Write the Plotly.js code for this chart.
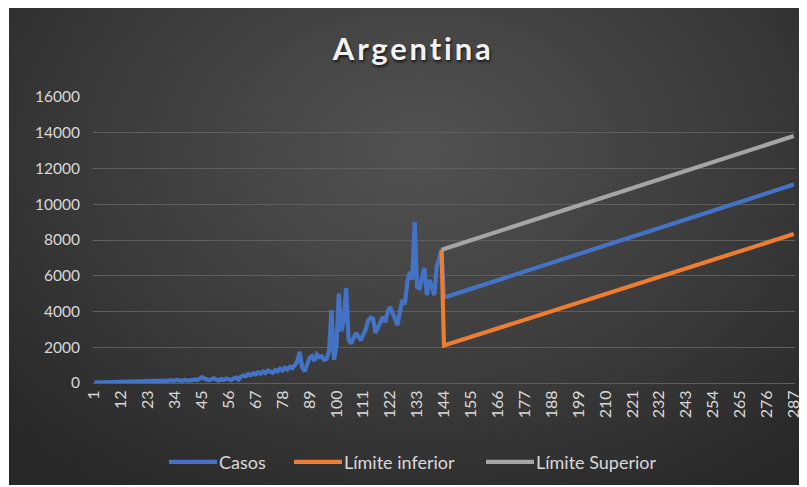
<!DOCTYPE html>
<html>
<head>
<meta charset="utf-8">
<script src="https://cdn.plot.ly/plotly-3.0.1.min.js"></script>
<style>
  html, body { margin: 0; padding: 0; background: #ffffff; width: 807px; height: 487px; overflow: hidden; }
  #bg { position: absolute; left: 9px; top: 8px; width: 790px; height: 477px;
        background: radial-gradient(ellipse 70% 85% at 52% 30%, #525252 0%, #3c3c3c 55%, #282828 100%); }
  #chart { position: absolute; left: 0; top: 0; width: 807px; height: 487px; }
  .gtitle { letter-spacing: 2.8px; text-shadow: 1px 2px 3px rgba(0,0,0,0.7); }
</style>
</head>
<body>
<div id="bg"></div>
<div id="chart"></div>
<script>
// Casos diarios observados (día 1 .. 143)
const casosReales = [
  20, 25, 30, 35, 40, 40, 45, 50, 50, 55,
  60, 60, 65, 70, 70, 75, 80, 80, 85, 90,
  70, 85, 100, 90, 110, 95, 120, 100, 140, 130,
  110, 160, 120, 150, 170, 140, 110, 180, 130, 160,
  150, 200, 170, 230, 320, 250, 180, 150, 210, 260,
  180, 140, 230, 170, 250, 210, 160, 260, 300, 190,
  350, 420, 380, 500, 430, 550, 480, 600, 520, 650,
  560, 700, 620, 580, 720, 650, 800, 700, 850, 760,
  900, 820, 1000, 1200, 1750, 900, 650, 1100, 1400, 1500,
  1250, 1600, 1450, 1500, 1300, 1350, 1800, 4080, 1300, 2000,
  5000, 2900, 3500, 5300, 2400, 2200, 2500, 2800, 2600, 2400,
  2700, 3000, 3500, 3650, 3600, 2800, 3100, 3400, 3700, 3400,
  4000, 4250, 3900, 3600, 3240, 4000, 4640, 4400, 5650, 6220,
  5800, 9000, 5370, 5300, 5930, 6430, 4920, 5760, 5400, 4920,
  6500, 7000, 7440
];
// Pronóstico de casos (tramo recto)
const pronosticoDias = [144, 287];
const pronosticoCasos = [4780, 11100];
// Límites
const limiteDias = [143, 144, 287];
const limiteInferior = [7440, 2100, 8330];
const limiteSuperior = [7440, 7500, 13820];
// Etiquetas de los ejes
const etiquetasX = [1, 12, 23, 34, 45, 56, 67, 78, 89, 100, 111, 122, 133, 144, 155, 166, 177, 188, 199, 210, 221, 232, 243, 254, 265, 276, 287];
const etiquetasY = [0, 2000, 4000, 6000, 8000, 10000, 12000, 14000, 16000];

const casosDias = casosReales.map((v, i) => i + 1).concat(pronosticoDias);
const casosValores = casosReales.concat(pronosticoCasos);

const font = "Lato, 'Open Sans', sans-serif";
const traces = [
  { x: casosDias, y: casosValores, type: 'scatter', mode: 'lines', name: 'Casos',
    line: { color: '#4472C4', width: 4.2 } },
  { x: limiteDias, y: limiteInferior, type: 'scatter', mode: 'lines', name: 'Límite inferior',
    line: { color: '#ED7D31', width: 4.2 } },
  { x: limiteDias, y: limiteSuperior, type: 'scatter', mode: 'lines', name: 'Límite Superior',
    line: { color: '#A5A5A5', width: 4.2 } }
];

const layout = {
  width: 807, height: 487,
  paper_bgcolor: 'rgba(0,0,0,0)',
  plot_bgcolor: 'rgba(0,0,0,0)',
  margin: { l: 93, r: 12, t: 97, b: 104, autoexpand: false },
  title: { text: 'Argentina', x: 0.512, xanchor: 'center', y: 0.9, yanchor: 'middle',
           xref: 'container', yref: 'container',
           font: { family: font, size: 31, color: '#f2f2f2', weight: 'bold' } },
  xaxis: {
    type: 'linear', range: [0.5, 287.5], tickmode: 'array', tickvals: etiquetasX,
    ticktext: etiquetasX.map(String), tickangle: -90, automargin: false,
    tickfont: { family: font, size: 16, color: '#d9d9d9' },
    showgrid: false, zeroline: false, showline: true, linecolor: '#5e5e5e', linewidth: 1,
    ticks: '', fixedrange: true
  },
  yaxis: {
    range: [0, 16000], tickmode: 'array', tickvals: etiquetasY, automargin: false,
    ticktext: etiquetasY.map(String),
    tickfont: { family: font, size: 15.5, color: '#d9d9d9' },
    showgrid: true, gridcolor: '#5e5e5e', gridwidth: 1, zeroline: false,
    showline: false, ticks: '', ticklabelstandoff: 12, fixedrange: true
  },
  legend: {
    orientation: 'h', x: 0.5, xanchor: 'center', y: 0.051, yanchor: 'middle',
    xref: 'container', yref: 'container',
    font: { family: font, size: 18, color: '#d9d9d9' },
    bgcolor: 'rgba(0,0,0,0)', itemwidth: 30
  },
  showlegend: true
};

// posiciones (px) de inicio de cada muestra de la leyenda
const legendStarts = [169, 294, 486];

Plotly.newPlot('chart', traces, layout, { displayModeBar: false, staticPlot: true }).then(gd => {
  gd.querySelectorAll('.legend, .legend *').forEach(el => el.removeAttribute('clip-path'));
  const items = gd.querySelectorAll('.legend .traces');
  items.forEach((g, i) => {
    const p = g.querySelector('.legendlines path');
    if (!p) return;
    p.setAttribute('d', 'M-10,0h48');
    const left = p.getBoundingClientRect().left;
    const dx = legendStarts[i] - left;
    const tr = g.getAttribute('transform') || 'translate(0,0)';
    const m = tr.match(/translate\(\s*([-\d.eE]+)[ ,]+([-\d.eE]+)\s*\)/);
    const a = m ? parseFloat(m[1]) : 0, b = m ? parseFloat(m[2]) : 0;
    g.setAttribute('transform', 'translate(' + (a + dx) + ',' + b + ')');
  });
});
</script>
</body>
</html>
